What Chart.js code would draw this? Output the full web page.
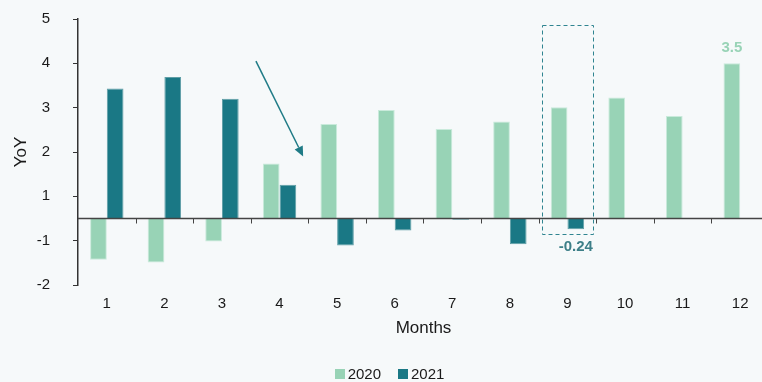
<!DOCTYPE html>
<html>
<head>
<meta charset="utf-8">
<script src="https://cdn.jsdelivr.net/npm/chart.js@4/dist/chart.umd.min.js"></script>
<style>
  html, body { margin: 0; padding: 0; background: #f6f9fa; overflow: hidden; }
  #wrap { width: 775px; height: 382px; position: relative; }
</style>
</head>
<body>
<div id="wrap"><canvas id="c"></canvas></div>
<script>
// Monthly YoY values for two years
const months = ['1', '2', '3', '4', '5', '6', '7', '8', '9', '10', '11', '12'];
const yoy2020 = [-0.93, -0.99, -0.52, 1.24, 2.13, 2.45, 2.02, 2.19, 2.51, 2.73, 2.31, 3.5];
const yoy2021 = [2.93, 3.19, 2.70, 0.76, -0.61, -0.27, -0.03, -0.58, -0.24, null, null, null];

// Y axis ticks sit half a unit off the zero line
const yTickValues = [-1.5, -0.5, 0.5, 1.5, 2.5, 3.5, 4.5];
const yTickLabels = ['-2', '-1', '1', '2', '3', '4', '5'];

// Bars whose value is written next to them
const valueLabels = [
  { series: 0, index: 11, color: '#98d3b6' },
  { series: 1, index: 8, color: '#3d7f88' }
];
const highlightIndex = 8;

const C2020 = '#98d3b6';
const C2021 = '#1a7885';
const TEXT = '#1a1a1a';
const FONT = "'Liberation Sans', Arial, sans-serif";

const overlay = {
  id: 'overlay',
  afterDatasetsDraw(chart) {
    const { ctx, chartArea, scales } = chart;
    const x = scales.x, y = scales.y;
    const y0 = y.getPixelForValue(0);
    const step = x.getPixelForValue(1) - x.getPixelForValue(0);

    ctx.save();
    // zero line with category separators
    ctx.strokeStyle = '#444';
    ctx.lineWidth = 1.5;
    ctx.beginPath();
    ctx.moveTo(chartArea.left, y0);
    ctx.lineTo(chartArea.right, y0);
    ctx.stroke();
    ctx.lineWidth = 1;
    for (let i = 1; i < months.length; i++) {
      const px = Math.round(x.getPixelForValue(i) - step / 2) + 0.5;
      ctx.beginPath();
      ctx.moveTo(px, y0);
      ctx.lineTo(px, y0 + 5);
      ctx.stroke();
    }

    // dashed highlight around one month
    const cx = x.getPixelForValue(highlightIndex);
    ctx.strokeStyle = '#2f8490';
    ctx.setLineDash([4, 3]);
    ctx.lineWidth = 1;
    const top = y.getPixelForValue(4.36), bot = y.getPixelForValue(-0.345);
    ctx.strokeRect(Math.round(cx - step * 0.44) + 0.5, Math.round(top) + 0.5,
                   Math.round(step * 0.88), Math.round(bot - top));
    ctx.setLineDash([]);

    // pointer arrow
    const ax0 = x.getPixelForValue(2.59), ay0 = y.getPixelForValue(3.55);
    const ax1 = x.getPixelForValue(3.41), ay1 = y.getPixelForValue(1.40);
    const ang = Math.atan2(ay1 - ay0, ax1 - ax0);
    const hl = 10, hw = 4.5;
    ctx.strokeStyle = '#1f7b86';
    ctx.fillStyle = '#1f7b86';
    ctx.lineWidth = 1.5;
    ctx.beginPath();
    ctx.moveTo(ax0, ay0);
    ctx.lineTo(ax1 - Math.cos(ang) * hl, ay1 - Math.sin(ang) * hl);
    ctx.stroke();
    ctx.beginPath();
    ctx.moveTo(ax1, ay1);
    ctx.lineTo(ax1 - Math.cos(ang) * hl - Math.sin(ang) * hw, ay1 - Math.sin(ang) * hl + Math.cos(ang) * hw);
    ctx.lineTo(ax1 - Math.cos(ang) * hl + Math.sin(ang) * hw, ay1 - Math.sin(ang) * hl - Math.cos(ang) * hw);
    ctx.closePath();
    ctx.fill();

    // value labels
    ctx.font = 'bold 15px ' + FONT;
    ctx.textAlign = 'center';
    ctx.textBaseline = 'middle';
    valueLabels.forEach(l => {
      const el = chart.getDatasetMeta(l.series).data[l.index];
      const v = chart.data.datasets[l.series].data[l.index];
      ctx.fillStyle = l.color;
      ctx.fillText(String(v), el.x, v >= 0 ? el.y - 15 : el.y + 18);
    });
    ctx.restore();
  },
  afterDraw(chart) {
    // compact legend: square swatch close to its label
    const { ctx } = chart;
    const ds = chart.data.datasets;
    ctx.save();
    ctx.font = '15px ' + FONT;
    ctx.textBaseline = 'middle';
    ctx.textAlign = 'left';
    const box = 10, gap = 3, spacing = 17;
    const widths = ds.map(d => box + gap + ctx.measureText(d.label).width);
    const total = widths.reduce((a, b) => a + b, 0) + spacing * (ds.length - 1);
    let lx = chart.width / 2 - total / 2 + 2;
    const ly = chart.height - 8;
    ds.forEach((d, i) => {
      ctx.fillStyle = d.backgroundColor;
      ctx.fillRect(Math.round(lx), Math.round(ly - box / 2), box, box);
      ctx.fillStyle = TEXT;
      ctx.fillText(d.label, lx + box + gap, ly + 0.5);
      lx += widths[i] + spacing;
    });
    ctx.restore();
  }
};

new Chart(document.getElementById('c'), {
  type: 'bar',
  data: {
    labels: months,
    datasets: [
      { label: '2020', data: yoy2020, backgroundColor: C2020, borderColor: '#c9eadb', borderWidth: 1 },
      { label: '2021', data: yoy2021, backgroundColor: C2021, borderColor: '#5f9ea6', borderWidth: 1 }
    ]
  },
  options: {
    responsive: true,
    maintainAspectRatio: false,
    animation: false,
    layout: { padding: { top: 19, left: 0, right: 6, bottom: 43 } },
    datasets: { bar: { categoryPercentage: 0.58, barPercentage: 1.0 } },
    plugins: {
      tooltip: { enabled: false },
      legend: { display: false }
    },
    scales: {
      x: {
        grid: { display: false, drawTicks: false },
        border: { display: false },
        afterFit(scale) { scale.height = 54; },
        ticks: { color: TEXT, padding: 10, font: { size: 15, family: FONT } },
        title: { display: true, text: 'Months', color: TEXT, font: { size: 17, family: FONT }, padding: { top: 0, bottom: 0 } }
      },
      y: {
        min: -1.5,
        max: 4.5,
        afterBuildTicks(scale) { scale.ticks = yTickValues.map(v => ({ value: v })); },
        afterFit(scale) {
          scale.width = 78;
          scale.paddingTop = 9;
          scale.paddingBottom = 9;
        },
        grid: { drawOnChartArea: false, drawTicks: true, tickLength: 5, color: '#333', lineWidth: 1 },
        border: { display: true, color: '#333', width: 1.5 },
        ticks: {
          color: TEXT, padding: 23, font: { size: 15, family: FONT },
          callback: (v, i) => yTickLabels[i]
        },
        title: { display: true, text: 'YoY', color: TEXT, font: { size: 17, family: FONT }, padding: { top: 11, bottom: 0 } }
      }
    }
  },
  plugins: [overlay]
});
</script>
</body>
</html>
